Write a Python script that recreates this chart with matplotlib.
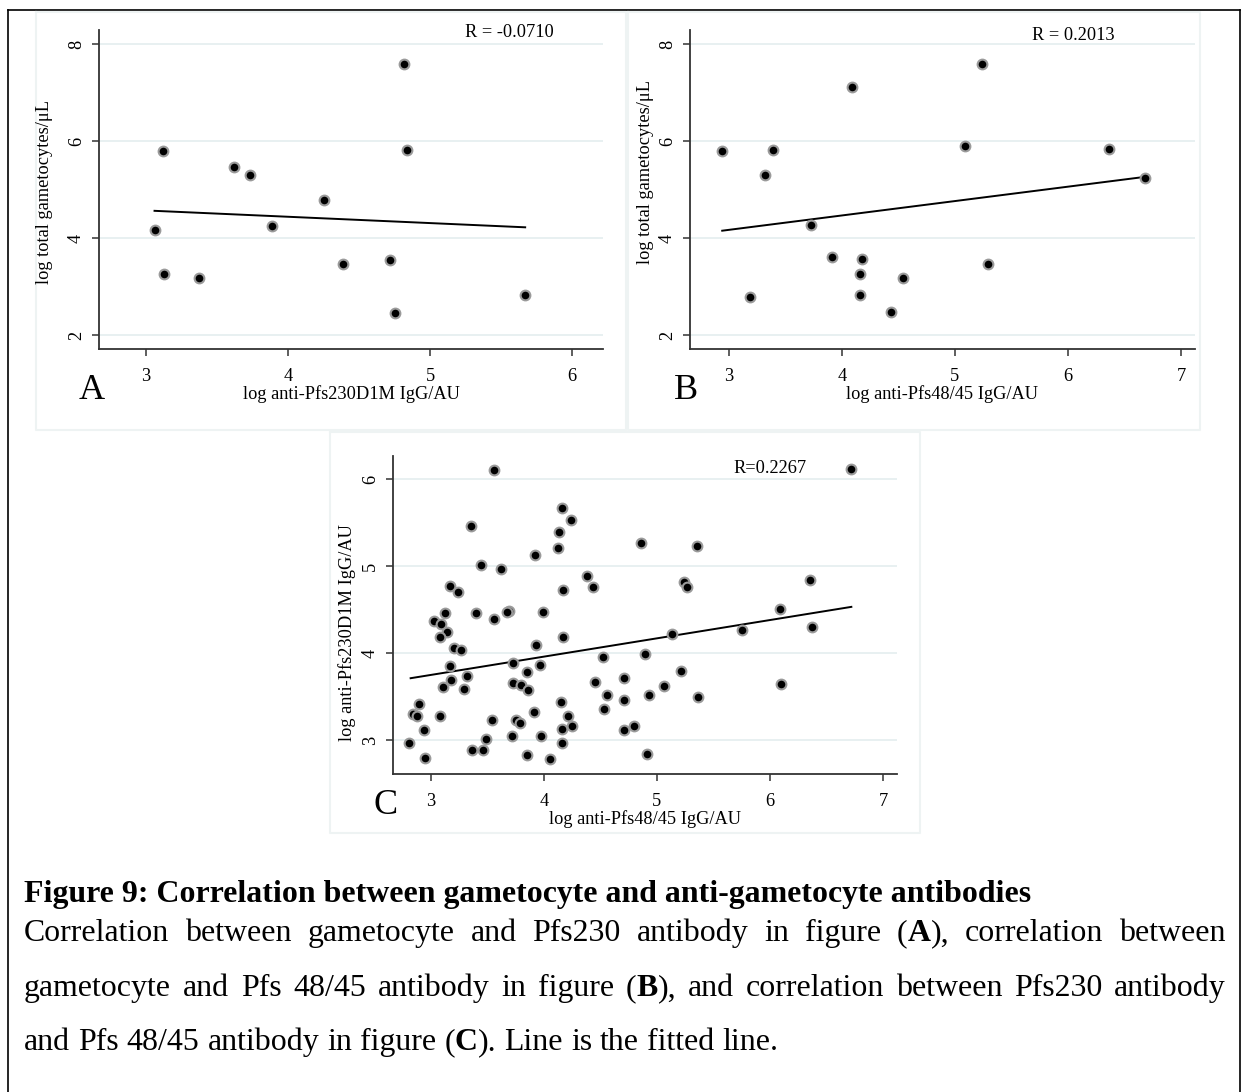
import matplotlib
matplotlib.use('Agg')
import matplotlib.pyplot as plt
from matplotlib.lines import Line2D

# ---------------- data ----------------
A_x = [4.82, 3.12, 4.84, 3.62, 3.73, 4.25, 3.89, 3.06, 3.13, 3.37, 4.39, 4.72, 4.75, 5.67]
A_y = [7.58, 5.80, 5.82, 5.47, 5.29, 4.78, 4.25, 4.16, 3.26, 3.17, 3.46, 3.54, 2.46, 2.83]
A_fit_x = [3.06, 5.67]
A_fit_y = [4.56, 4.22]
A_R = "R = -0.0710"

B_x = [2.94, 3.39, 3.32, 3.19, 3.73, 3.91, 4.09, 4.18, 4.16, 4.16, 4.54, 4.43, 5.24, 5.09, 5.29, 6.36, 6.68]
B_y = [5.80, 5.81, 5.30, 2.78, 4.26, 3.61, 7.11, 3.56, 3.26, 2.83, 3.18, 2.47, 7.58, 5.89, 3.46, 5.83, 5.23]
B_fit_x = [2.94, 6.68]
B_fit_y = [4.15, 5.26]
B_R = "R = 0.2013"

C_x = [3.56, 6.715, 3.35, 4.16, 4.24, 4.13, 4.12, 3.92, 4.86, 5.35,
       3.445, 3.62, 3.17, 3.24, 4.165, 4.38, 4.43, 5.24, 5.265, 6.35,
       3.12, 3.40, 3.69, 3.67, 3.99, 3.56, 3.03, 3.09, 3.145, 3.08,
       4.165, 3.93, 3.20, 3.27, 6.09, 5.75, 5.135, 6.37, 3.165, 3.73,
       3.965, 3.85, 3.32, 3.18, 3.11, 3.29, 3.73, 3.80, 3.86, 4.525,
       4.89, 5.21, 4.45, 4.705, 4.56, 4.705, 4.93, 5.06, 5.36, 6.095,
       4.535, 4.15, 2.89, 2.84, 2.88, 3.08, 3.91, 3.54, 3.75, 3.79,
       4.215, 2.94, 4.16, 4.25, 4.71, 4.80, 3.72, 3.97, 2.81, 3.49,
       3.36, 3.46, 4.16, 2.95, 3.85, 4.05, 4.91]
C_y = [6.10, 6.11, 5.46, 5.67, 5.53, 5.39, 5.21, 5.13, 5.26, 5.23,
       5.015, 4.96, 4.77, 4.70, 4.72, 4.885, 4.755, 4.82, 4.76, 4.84,
       4.46, 4.46, 4.48, 4.47, 4.47, 4.39, 4.37, 4.33, 4.24, 4.18,
       4.18, 4.09, 4.06, 4.03, 4.50, 4.26, 4.22, 4.295, 3.85, 3.89,
       3.86, 3.785, 3.74, 3.69, 3.61, 3.59, 3.65, 3.63, 3.57, 3.95,
       3.985, 3.79, 3.67, 3.71, 3.52, 3.455, 3.52, 3.62, 3.49, 3.64,
       3.36, 3.44, 3.41, 3.30, 3.28, 3.28, 3.32, 3.23, 3.23, 3.19,
       3.27, 3.12, 3.13, 3.16, 3.12, 3.16, 3.05, 3.05, 2.97, 3.01,
       2.885, 2.89, 2.96, 2.79, 2.83, 2.785, 2.84]
C_fit_x = [2.82, 6.72]
C_fit_y = [3.71, 4.53]
C_R = "R=0.2267"

AB_yticks = [2, 4, 6, 8]
A_xticks = [3, 4, 5, 6]
B_xticks = [3, 4, 5, 6, 7]
C_xticks = [3, 4, 5, 6, 7]
C_yticks = [3, 4, 5, 6]

ylabel_gam = "log total gametocytes/\u03bcL"
xlabel_230 = "log anti-Pfs230D1M IgG/AU"
xlabel_48 = "log anti-Pfs48/45 IgG/AU"
ylabel_230 = "log anti-Pfs230D1M IgG/AU"

title_text = "Figure 9: Correlation between gametocyte and anti-gametocyte antibodies"
# caption lines: list of words; each word = list of (segment, bold)
cap_line1 = [[("Correlation", False)], [("between", False)], [("gametocyte", False)], [("and", False)],
             [("Pfs230", False)], [("antibody", False)], [("in", False)], [("figure", False)],
             [("(", False), ("A", True), ("),", False)], [("correlation", False)], [("between", False)]]
cap_line2 = [[("gametocyte", False)], [("and", False)], [("Pfs", False)], [("48/45", False)],
             [("antibody", False)], [("in", False)], [("figure", False)],
             [("(", False), ("B", True), ("),", False)], [("and", False)], [("correlation", False)],
             [("between", False)], [("Pfs230", False)], [("antibody", False)]]
cap_line3 = [[("and", False)], [("Pfs", False)], [("48/45", False)], [("antibody", False)],
             [("in", False)], [("figure", False)], [("(", False), ("C", True), (").", False)],
             [("Line", False)], [("is", False)], [("the", False)], [("fitted", False)], [("line.", False)]]

# ---------------- figure ----------------
W, H = 1241, 1092
plt.rcParams['font.family'] = ['Liberation Serif', 'DejaVu Serif']
fig = plt.figure(figsize=(W / 100, H / 100), dpi=100)
fig.patch.set_facecolor('white')


def fx(x):
    return x / W


def fy(y):
    return 1 - y / H


def axes_px(left, top, right, bottom):
    return fig.add_axes([fx(left), fy(bottom), (right - left) / W, (bottom - top) / H])


# outer frame and faint panel frames
fig.add_artist(Line2D([fx(8), fx(1240)], [fy(10), fy(10)], color='black', lw=1.2))
fig.add_artist(Line2D([fx(8), fx(8)], [fy(10), fy(1092)], color='black', lw=1.2))
fig.add_artist(Line2D([fx(1240), fx(1240)], [fy(10), fy(1092)], color='black', lw=1.2))
faint = '#eef3f3'
for (l, t, r, b) in [(36, 12, 626, 430), (628, 12, 1200, 430), (330, 432, 920, 833)]:
    fig.add_artist(Line2D([fx(l), fx(r), fx(r), fx(l), fx(l)],
                          [fy(t), fy(t), fy(b), fy(b), fy(t)], color=faint, lw=1.5))

FS = 13.2
grid_col = '#e6eff0'
spine_col = '#333333'


def style(ax, xlim, ylim, xticks, yticks):
    ax.set_xlim(*xlim)
    ax.set_ylim(*ylim)
    ax.set_xticks(xticks)
    ax.set_yticks(yticks)
    for s in ['top', 'right']:
        ax.spines[s].set_visible(False)
    for s in ['left', 'bottom']:
        ax.spines[s].set_color(spine_col)
        ax.spines[s].set_linewidth(1.3)
    ax.tick_params(axis='both', direction='out', length=5, width=1.1, color=spine_col,
                   labelsize=FS)
    ax.tick_params(axis='x', pad=9)
    ax.tick_params(axis='y', pad=5)
    for lab in ax.get_yticklabels():
        lab.set_rotation(90)
        lab.set_va('center')
    ax.yaxis.grid(True, color=grid_col, lw=1.3)
    ax.set_axisbelow(True)
    ax.patch.set_alpha(0)


def dots(ax, x, y):
    ax.plot(x, y, linestyle='none', marker='o', ms=7.0, mfc='black', mec='#9a9a9a', mew=1.5,
            zorder=3)


# Panel A
axA = axes_px(99, 29.5, 603, 349)
style(axA, (2.669, 6.218), (1.71, 8.30), A_xticks, AB_yticks)
dots(axA, A_x, A_y)
axA.plot(A_fit_x, A_fit_y, color='black', lw=1.4, zorder=2)
axA.text(5.56, 8.23, A_R, fontsize=FS, ha='center', va='center')

# Panel B
axB = axes_px(690, 29.5, 1195, 349)
style(axB, (2.655, 7.124), (1.71, 8.30), B_xticks, AB_yticks)
dots(axB, B_x, B_y)
axB.plot(B_fit_x, B_fit_y, color='black', lw=1.4, zorder=2)
axB.text(6.05, 8.17, B_R, fontsize=FS, ha='center', va='center')

# Panel C
axC = axes_px(393, 456, 897, 774)
style(axC, (2.664, 7.124), (2.609, 6.264), C_xticks, C_yticks)
dots(axC, C_x, C_y)
axC.plot(C_fit_x, C_fit_y, color='black', lw=1.4, zorder=2)
axC.text(6.0, 6.12, C_R, fontsize=FS, ha='center', va='center')

# axis titles
fig.text(fx(351), fy(394), xlabel_230, fontsize=FS, ha='center', va='center')
fig.text(fx(942), fy(394), xlabel_48, fontsize=FS, ha='center', va='center')
fig.text(fx(645), fy(819), xlabel_48, fontsize=FS, ha='center', va='center')
fig.text(fx(45), fy(192), ylabel_gam, fontsize=FS, ha='center', va='center', rotation=90)
fig.text(fx(646), fy(172), ylabel_gam, fontsize=FS, ha='center', va='center', rotation=90)
fig.text(fx(347), fy(633), ylabel_230, fontsize=FS, ha='center', va='center', rotation=90)

# panel letters
for letter, x, y in [("A", 92, 390), ("B", 686, 390), ("C", 386, 806)]:
    fig.text(fx(x), fy(y), letter, fontsize=26, ha='center', va='center')

# ---------------- caption ----------------
renderer = fig.canvas.get_renderer()


def measure(s, size, bold):
    t = fig.text(0, 0, s, fontsize=size, fontweight='bold' if bold else 'normal')
    w = t.get_window_extent(renderer).width
    t.remove()
    return w


title_size = 10 * 1009 / measure(title_text, 10, True)
fig.text(fx(24), fy(902), title_text, fontsize=title_size, fontweight='bold',
         ha='left', va='baseline')

plain3 = " ".join("".join(s for s, _ in w) for w in cap_line3)
body_size = 10 * 754 / measure(plain3, 10, False)
space_px = body_size * 100 / 72 * 0.25


def place_line(words, y, justify):
    widths = []
    for w in words:
        widths.append([measure(s, body_size, b) for s, b in w])
    total = sum(sum(ws) for ws in widths)
    if justify:
        gap = (1226 - 24 - total) / (len(words) - 1)
    else:
        gap = space_px
    x = 24
    for w, ws in zip(words, widths):
        for (s, b), sw in zip(w, ws):
            fig.text(fx(x), fy(y), s, fontsize=body_size, fontweight='bold' if b else 'normal',
                     ha='left', va='baseline')
            x += sw
        x += gap


place_line(cap_line1, 941, True)
place_line(cap_line2, 996, True)
place_line(cap_line3, 1050, False)

fig.savefig('out.png', dpi=100, facecolor='white')
